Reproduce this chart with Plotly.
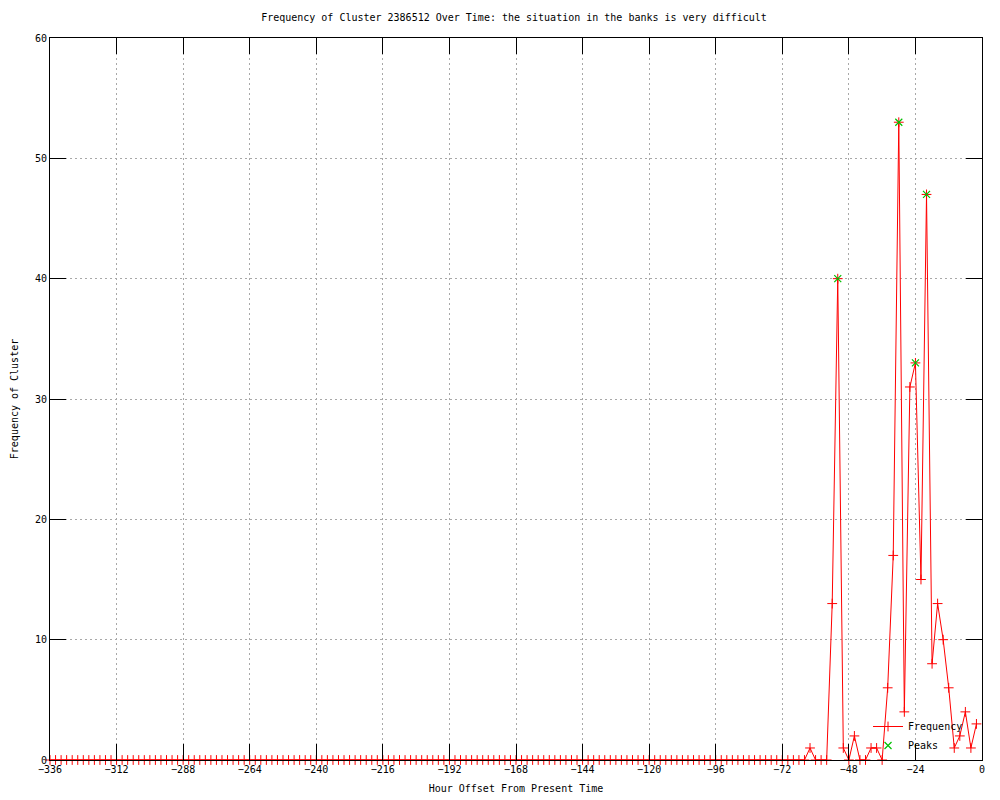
import plotly.graph_objects as go

# Hour offsets (every 2 hours from -336 to -2)
hours = list(range(-336, 0, 2))

# Frequency of cluster at each hour offset
frequency = [
    0, 0, 0, 0, 0, 0, 0, 0, 0, 0, 0, 0,   # -336 .. -314
    0, 0, 0, 0, 0, 0, 0, 0, 0, 0, 0, 0,   # -312 .. -290
    0, 0, 0, 0, 0, 0, 0, 0, 0, 0, 0, 0,   # -288 .. -266
    0, 0, 0, 0, 0, 0, 0, 0, 0, 0, 0, 0,   # -264 .. -242
    0, 0, 0, 0, 0, 0, 0, 0, 0, 0, 0, 0,   # -240 .. -218
    0, 0, 0, 0, 0, 0, 0, 0, 0, 0, 0, 0,   # -216 .. -194
    0, 0, 0, 0, 0, 0, 0, 0, 0, 0, 0, 0,   # -192 .. -170
    0, 0, 0, 0, 0, 0, 0, 0, 0, 0, 0, 0,   # -168 .. -146
    0, 0, 0, 0, 0, 0, 0, 0, 0, 0, 0, 0,   # -144 .. -122
    0, 0, 0, 0, 0, 0, 0, 0, 0, 0, 0, 0,   # -120 .. -98
    0, 0, 0, 0, 0, 0, 0, 0, 0, 0, 0, 0,   # -96 .. -74
    0, 0, 0, 0, 0, 1, 0, 0, 0, 13, 40, 1, # -72 .. -50
    0, 2, 0, 0, 1, 1, 0, 6, 17, 53, 4, 31,  # -48 .. -26
    33, 15, 47, 8, 13, 10, 6, 1, 2, 4, 1, 3,  # -24 .. -2
]

peak_hours = [-52, -30, -24, -20]
peak_values = [40, 53, 33, 47]

x_ticks = list(range(-336, 1, 24))
y_ticks = list(range(0, 61, 10))

FONT = "DejaVu Sans Mono"

fig = go.Figure()
fig.add_trace(go.Scatter(
    x=hours, y=frequency, mode="lines+markers", name="Frequency",
    line=dict(color="#ff0000", width=1),
    marker=dict(symbol="cross-thin", size=7, line=dict(color="#ff0000", width=1)),
    cliponaxis=False,
))
fig.add_trace(go.Scatter(
    x=peak_hours, y=peak_values, mode="markers", name="Peaks",
    marker=dict(symbol="x-thin", size=7, line=dict(color="#00c000", width=1.2)),
    cliponaxis=False,
))

axis_common = dict(
    showline=True, linecolor="black", linewidth=1, mirror="ticks",
    ticks="inside", ticklen=16, tickcolor="black", tickwidth=1,
    showgrid=True, gridcolor="#a8a8a8", griddash="2px,3px", gridwidth=1,
    zeroline=False, automargin=False,
    tickfont=dict(family=FONT, size=10, color="black"),
)

fig.update_layout(
    width=1000, height=800,
    paper_bgcolor="white", plot_bgcolor="white",
    margin=dict(l=50, r=18, t=38, b=40),
    title=dict(text="Frequency of Cluster 2386512 Over Time: the situation in the banks is very difficult",
               x=0.514, xanchor="center", y=0.978, yanchor="middle",
               font=dict(family=FONT, size=10, color="black"),
               automargin=False),
    xaxis=dict(range=[-336, 0], tickvals=x_ticks,
               title=dict(text="Hour Offset From Present Time", standoff=10,
                          font=dict(family=FONT, size=10, color="black")),
               **axis_common),
    yaxis=dict(range=[0, 60], tickvals=y_ticks,
               title=dict(text="Frequency of Cluster", standoff=14,
                          font=dict(family=FONT, size=10, color="black")),
               **axis_common),
    legend=dict(x=0.985, xanchor="right", y=0.0, yanchor="bottom",
                bgcolor="rgba(0,0,0,0)", borderwidth=0,
                font=dict(family=FONT, size=10, color="black"),
                tracegroupgap=0, itemwidth=30),
    showlegend=True,
)

fig.write_html("out.html",
               config={"displayModeBar": False},
               post_script="document.body.style.margin='0';document.body.style.overflow='hidden';")
